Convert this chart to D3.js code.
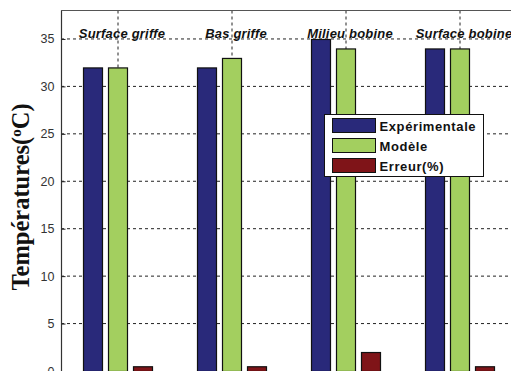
<!DOCTYPE html>
<html><head><meta charset="utf-8">
<script src="https://cdn.jsdelivr.net/npm/d3@7"></script>
<style>body{margin:0;background:#fff;}svg{display:block;}</style>
</head><body>
<script>
const categories = ["Surface griffe", "Bas griffe", "Milieu bobine", "Surface bobine"];
const seriesNames = ["Expérimentale", "Modèle", "Erreur(%)"];
const experimentale = [32, 32, 35, 34];
const modele = [32, 33, 34, 34];
const erreur = [0.5, 0.5, 2, 0.5];
const yTicks = [0, 5, 10, 15, 20, 25, 30, 35];
const colors = ["#29297a", "#a3cf5f", "#7f1418"];

const W = 511, H = 371;
const svg = d3.select("body").append("svg").attr("width", W).attr("height", H);

const x0 = d3.scaleBand().domain(categories).range([61, 517]).padding(0);
const x1 = d3.scaleBand().domain(seriesNames).range([22, 92]).paddingInner(0.2).paddingOuter(0);
const y = d3.scaleLinear().domain([0, 38]).range([371, 10.5]);

const data = categories.map((c, i) => ({cat: c, vals: [experimentale[i], modele[i], erreur[i]]}));

// grid
const g = svg.append("g");
g.selectAll("line.hg").data(yTicks.filter(t => t > 0)).join("line")
  .attr("x1", 61).attr("x2", 517).attr("y1", d => y(d)).attr("y2", d => y(d))
  .attr("stroke", "#222").attr("stroke-width", 1).attr("stroke-dasharray", "3,3");
g.selectAll("line.vg").data(categories).join("line")
  .attr("x1", d => x0(d) + x0.bandwidth()/2).attr("x2", d => x0(d) + x0.bandwidth()/2)
  .attr("y1", y(38)).attr("y2", y(0))
  .attr("stroke", "#222").attr("stroke-width", 1).attr("stroke-dasharray", "3,3");

// bars
const grp = svg.selectAll("g.grp").data(data).join("g").attr("transform", d => `translate(${x0(d.cat)},0)`);
grp.selectAll("rect").data(d => d.vals.map((v, k) => ({k, v}))).join("rect")
  .attr("x", d => x1(seriesNames[d.k]) + 0.5)
  .attr("width", x1.bandwidth() - 1)
  .attr("y", d => y(d.v) + 0.5)
  .attr("height", d => y(0) - y(d.v))
  .attr("fill", d => colors[d.k])
  .attr("stroke", "#111").attr("stroke-width", 1.2);

// category labels
svg.selectAll("text.cat").data(categories).join("text")
  .attr("x", d => x0(d) + x0.bandwidth()/2 + 4)
  .attr("y", 38)
  .attr("text-anchor", "middle")
  .attr("font-family", "Liberation Sans, Arial, sans-serif")
  .attr("font-weight", "bold").attr("font-style", "italic")
  .attr("font-size", 13).attr("letter-spacing", 0.2).attr("fill", "#111")
  .text(d => d);

// axes frame
svg.append("line").attr("x1", 61.5).attr("x2", 61.5).attr("y1", 10.5).attr("y2", 371).attr("stroke", "#333").attr("stroke-width", 1.2);
svg.append("line").attr("x1", 61).attr("x2", 517).attr("y1", 10.5).attr("y2", 10.5).attr("stroke", "#555").attr("stroke-width", 1.2);

const yAxis = d3.axisLeft(y).tickValues(yTicks).tickSize(-4).tickPadding(7);
const ya = svg.append("g").attr("transform", "translate(61.5,0)").call(yAxis);
ya.select(".domain").remove();
ya.selectAll(".tick line").attr("stroke", "#222");
ya.selectAll(".tick text").attr("font-family", "Liberation Sans, Arial, sans-serif").attr("font-size", 12.5).attr("fill", "#333");

// y label
const yl = svg.append("text")
  .attr("transform", "translate(29,197) rotate(-90)")
  .attr("text-anchor", "middle")
  .attr("font-family", "Liberation Serif, Times New Roman, serif")
  .attr("font-weight", "bold").attr("font-size", 24.5).attr("fill", "#111");
yl.append("tspan").text("Températures(");
yl.append("tspan").attr("font-size", 15).attr("dy", -8).text("o");
yl.append("tspan").attr("dy", 8).text("C)");

// legend
const lg = svg.append("g").attr("transform", "translate(324.5,114.5)");
lg.append("rect").attr("width", 159).attr("height", 62).attr("fill", "#fff").attr("stroke", "#111").attr("stroke-width", 1);
seriesNames.forEach((s, i) => {
  lg.append("rect").attr("x", 8).attr("y", 4 + i*20).attr("width", 43).attr("height", 14)
    .attr("fill", colors[i]).attr("stroke", "#111").attr("stroke-width", 1);
  lg.append("text").attr("x", 55).attr("y", 16 + i*20)
    .attr("font-family", "Liberation Sans, Arial, sans-serif").attr("font-weight", "bold")
    .attr("font-size", 13).attr("letter-spacing", 0.6).attr("fill", "#111").text(s);
});
</script>
</body></html>
